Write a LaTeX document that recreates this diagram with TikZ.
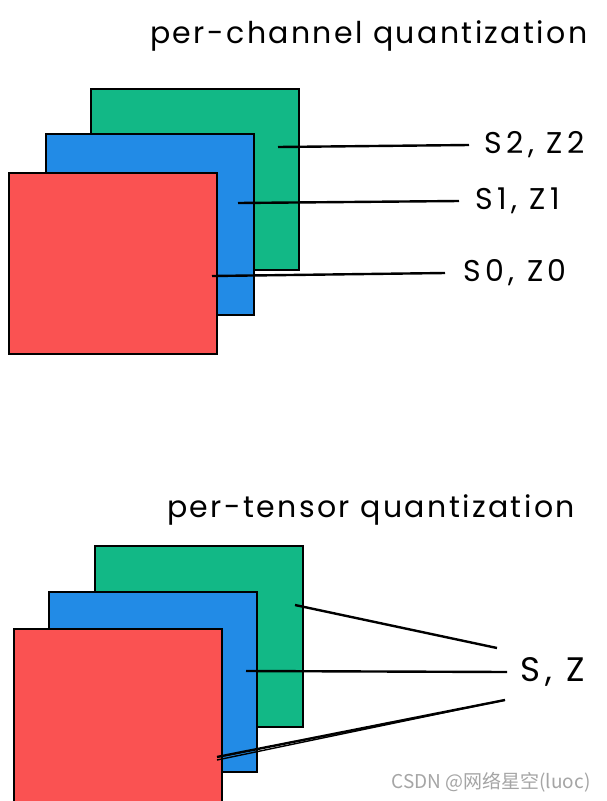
\documentclass[tikz,border=0pt]{standalone}
\usepackage{fontspec}
\setmainfont{Poppins}
\newfontfamily\sketchfont{Poppins}[LetterSpace=8]
\newfontfamily\tagfont{Poppins}[LetterSpace=15]
\newfontfamily\cjkfont{Noto Sans CJK SC}
\usetikzlibrary{positioning}
\definecolor{sheetgreen}{HTML}{12B886}
\definecolor{sheetblue}{HTML}{228BE6}
\definecolor{sheetred}{HTML}{FA5252}
\definecolor{wmgray}{RGB}{165,165,165}

\begin{document}
\begin{tikzpicture}[x=1pt,y=-1pt,
    sheet/.style={rectangle,draw=black,line width=2pt,inner sep=0pt,
                  minimum width=208pt,minimum height=181pt,anchor=north west},
    ttl/.style={font=\sketchfont\fontsize{30}{33}\selectfont,anchor=base west,inner sep=0pt},
    lbl/.style={font=\tagfont\fontsize{30}{33}\selectfont,anchor=west,inner sep=0pt},
    lead/.style={line width=2.4pt}]

  \clip (0,0) rectangle (606,801);
  \fill[white] (0,0) rectangle (606,801);

  % per-channel: one scale / zero point per sheet
  \node[ttl] (ttlc) at (150,43) {per-channel quantization};
  \node[sheet,fill=sheetgreen] (gc) at (90,88) {};
  \node[sheet,fill=sheetblue]  (bc) at (45,133) {};
  \node[sheet,fill=sheetred]   (rc) at (8,172) {};
  \node[lbl] (lc2) at (484,145) {S2, Z2};
  \node[lbl] (lc1) at (475,201) {S1, Z1};
  \node[lbl] (lc0) at (463,273) {S0, Z0};
  \coordinate (pc2) at (278,147);
  \coordinate (pc1) at (238,203);
  \coordinate (pc0) at (212,276);
  \draw[lead] (pc2) -- ([xshift=-15pt]lc2.west);
  \draw[lead] (pc1) -- ([xshift=-16pt]lc1.west);
  \draw[lead] (pc0) -- ([xshift=-18pt]lc0.west);

  % per-tensor: one scale / zero point for all sheets
  \node[ttl] (ttlt) at (167,517) {per-tensor quantization};
  \node[sheet,fill=sheetgreen] (gt) at (94,545) {};
  \node[sheet,fill=sheetblue,minimum height=180pt] (bt) at (48,591) {};
  \node[sheet,fill=sheetred,minimum height=200pt]  (rt) at (13,628) {};
  \node[lbl,font=\tagfont\fontsize{34}{37}\selectfont] (lsz) at (520,672) {S, Z};
  \coordinate (pt2) at (295,605);
  \coordinate (pt1) at (246,671);
  \coordinate (pt0) at (217,757);
  \draw[lead] (pt2) -- ([shift={(-23,-24)}]lsz.west);
  \draw[lead] (pt1) -- ([xshift=-13pt]lsz.west);
  \draw[lead] (pt0) -- ([shift={(-15,28)}]lsz.west);
  \draw[line width=1.4pt] ([yshift=-3pt]pt0) -- ([shift={(-15,28)}]lsz.west);

  \node[font=\cjkfont\fontsize{19}{22}\selectfont,text=wmgray,anchor=east] (wm)
       at (594,782) {CSDN @网络星空(luoc)};
\end{tikzpicture}
\end{document}
